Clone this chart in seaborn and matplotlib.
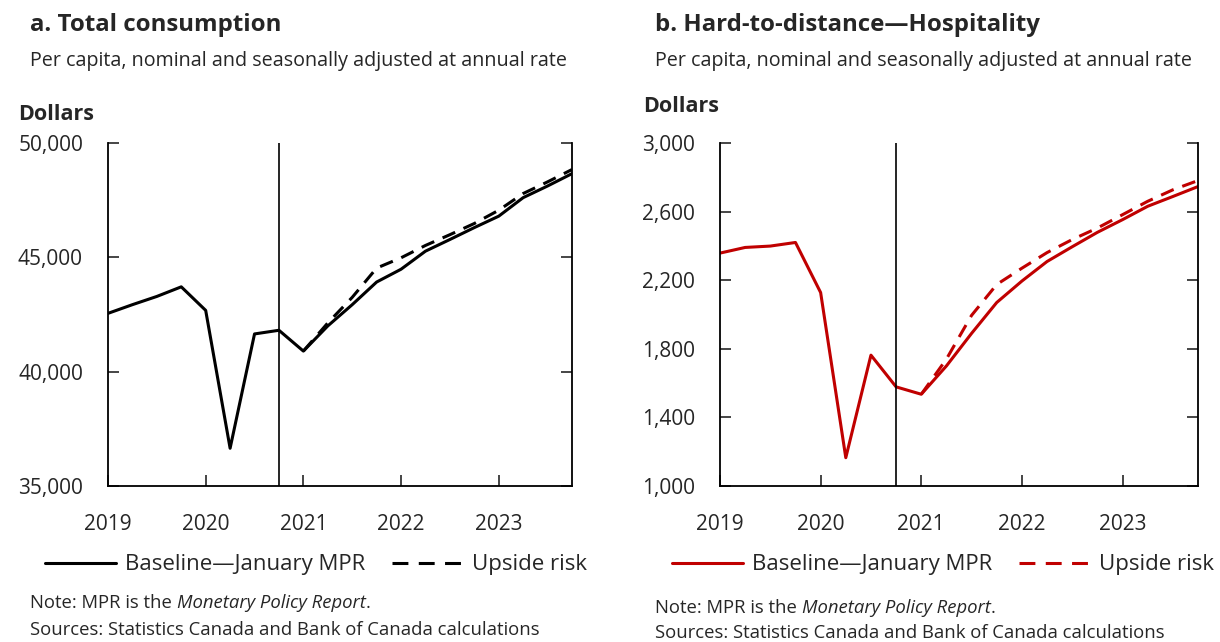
import numpy as np
import pandas as pd
import seaborn as sns
import matplotlib.pyplot as plt
from matplotlib.lines import Line2D

# quarterly dates, 2019Q1 .. 2023Q4
years = [2019, 2020, 2021, 2022, 2023]
quarters = [y + q / 4 for y in years for q in range(4)]

total_base = [42550, 42930, 43290, 43710, 42680, 36650, 41650, 41810,
              40900, 42000, 42930, 43920, 44480, 45270, 45780, 46300,
              46800, 47610, 48120, 48660]
total_up = [None] * 8 + [40900, 42130, 43250, 44530, 44980, 45520, 45990, 46480,
                         47060, 47790, 48300, 48840]

hosp_base = [2358, 2391, 2399, 2420, 2128, 1165, 1763, 1578,
             1535, 1700, 1890, 2070, 2195, 2309, 2395, 2479,
             2553, 2631, 2688, 2746]
hosp_up = [None] * 8 + [1535, 1740, 1995, 2175, 2270, 2361, 2437, 2504,
                        2582, 2660, 2727, 2781]

base_lbl = "Baseline\u2014January MPR"
up_lbl = "Upside risk"

sns.set_style("white")
plt.rcParams['font.family'] = ['Open Sans', 'DejaVu Sans']

W, H = 1220, 642
fig = plt.figure(figsize=(12.2, 6.42), dpi=100)
ax1 = fig.add_axes([108 / W, 156 / H, 464 / W, 343 / H])
ax2 = fig.add_axes([720 / W, 156 / H, 478 / W, 343 / H])


def make_df(base, up):
    d1 = pd.DataFrame({'date': quarters, 'value': base, 'series': base_lbl})
    d2 = pd.DataFrame({'date': quarters, 'value': up, 'series': up_lbl}).dropna()
    return pd.concat([d2, d1])


def draw(ax, base, up, color, ylim, yticks, fmt_ticks, leg_x):
    df = make_df(base, up)
    sns.lineplot(data=df, x='date', y='value', style='series', color=color,
                 dashes={base_lbl: '', up_lbl: (4.5, 3)}, linewidth=2.2,
                 legend=False, ax=ax)
    ax.axvline(2020.75, color='black', lw=1.2)
    ax.set_xlim(2019, 2023.75)
    ax.set_ylim(*ylim)
    ax.set_yticks(yticks)
    ax.set_yticklabels(fmt_ticks)
    ax.set_xticks(years)
    ax.set_xticklabels([str(y) for y in years])
    ax.set_xlabel('')
    ax.set_ylabel('')
    ax.spines['top'].set_visible(False)
    for s in ['left', 'right', 'bottom']:
        ax.spines[s].set_color('black')
        ax.spines[s].set_linewidth(1.3)
    ax.tick_params(axis='y', direction='in', length=8, width=1.2, right=True,
                   left=True, labelsize=15, pad=18)
    ax.tick_params(axis='x', direction='in', length=8, width=1.2, bottom=True,
                   labelsize=15, pad=20)
    handles = [Line2D([], [], color=color, lw=2.2),
               Line2D([], [], color=color, lw=2.2, dashes=(5.2, 3.4))]
    ax.legend(handles, [base_lbl, up_lbl], loc='center left',
              bbox_to_anchor=(leg_x, -0.23), ncol=2, frameon=False,
              fontsize=16, handlelength=3.2, columnspacing=1.2,
              handletextpad=0.4, borderpad=0, borderaxespad=0)


draw(ax1, total_base, total_up, 'black', (35000, 50000),
     [35000, 40000, 45000, 50000], ['35,000', '40,000', '45,000', '50,000'],
     (45 - 108) / 464)
draw(ax2, hosp_base, hosp_up, '#c00000', (1000, 3000),
     [1000, 1400, 1800, 2200, 2600, 3000],
     ['1,000', '1,400', '1,800', '2,200', '2,600', '3,000'],
     (672 - 720) / 478)


def header(x, title):
    fig.text(x / W, 1 - 25 / H, title, fontsize=17.3, fontweight='bold',
             va='center', ha='left')
    fig.text(x / W, 1 - 61 / H,
             "Per capita, nominal and seasonally adjusted at annual rate",
             fontsize=14.2, va='center', ha='left')


header(30, "a. Total consumption")
header(655, "b. Hard-to-distance\u2014Hospitality")
fig.text(18 / W, 1 - 115 / H, "Dollars", fontsize=15.5, fontweight='bold',
         va='center', ha='left')
fig.text(643 / W, 1 - 107 / H, "Dollars", fontsize=15.5, fontweight='bold',
         va='center', ha='left')


def notes(x, y1, y2):
    t = fig.text(x / W, 1 - y1 / H, "Note: MPR is the ", fontsize=13.3,
                 va='center', ha='left')
    t2 = fig.text(0, 0, "Monetary Policy Report", fontsize=13.3, style='italic',
                  va='center', ha='left')
    fig.canvas.draw()
    bb = t.get_window_extent()
    t2.set_position((bb.x1 / fig.bbox.width, 1 - y1 / H))
    fig.canvas.draw()
    bb2 = t2.get_window_extent()
    fig.text(bb2.x1 / fig.bbox.width, 1 - y1 / H, ".", fontsize=13.3,
             va='center', ha='left')
    fig.text(x / W, 1 - y2 / H,
             "Sources: Statistics Canada and Bank of Canada calculations",
             fontsize=13.3, va='center', ha='left')


notes(30, 603, 630)
notes(655, 608, 633)

fig.savefig('out.png', dpi=100)
